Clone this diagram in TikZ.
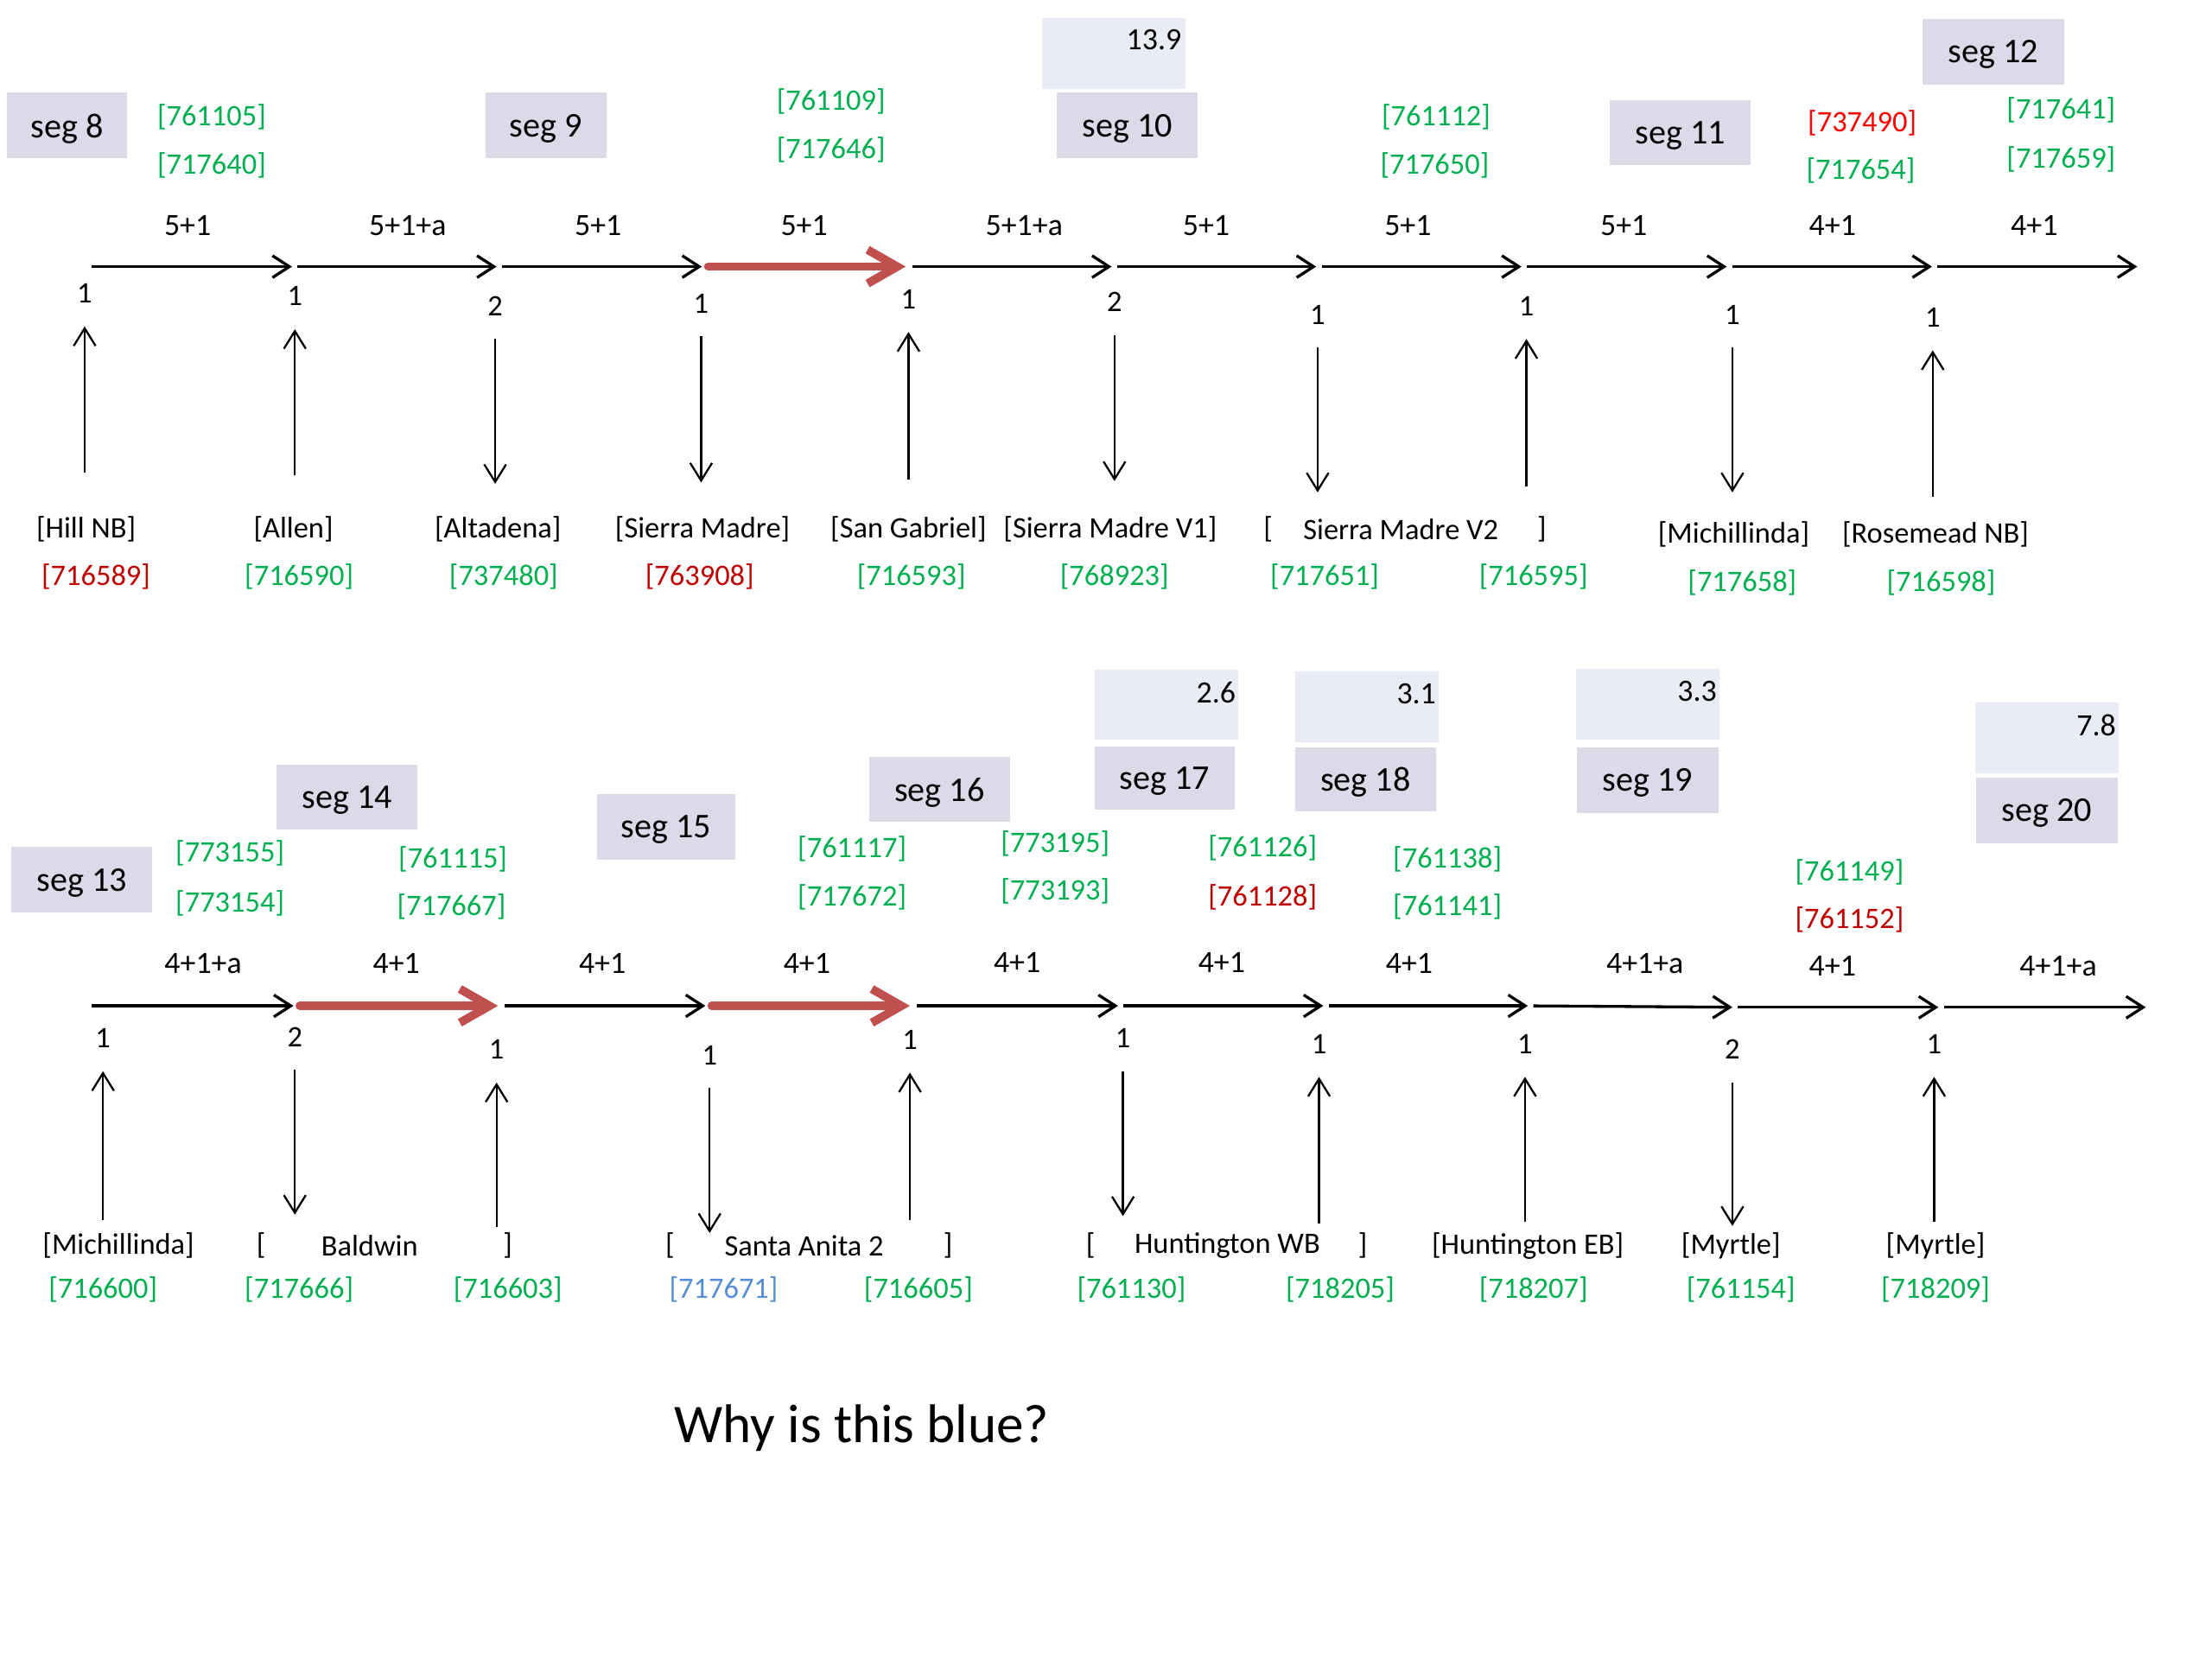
\documentclass[tikz,border=0pt]{standalone}
\usepackage{fontspec}
\setmainfont{Carlito}
\usetikzlibrary{arrows.meta,positioning}
\definecolor{idgreen}{RGB}{0,176,80}
\definecolor{iddark}{RGB}{192,0,0}
\definecolor{idbright}{RGB}{255,0,0}
\definecolor{idblue}{RGB}{85,142,213}
\definecolor{segfill}{RGB}{221,217,232}
\definecolor{valfill}{RGB}{233,236,244}
\definecolor{hotred}{RGB}{192,80,77}

\begin{document}
\begin{tikzpicture}[x=0.02cm,y=-0.02cm]

\tikzset{
  segbox/.style={fill=segfill, minimum width=2cm, minimum height=0.93cm, inner sep=0pt,
    text depth=0pt, font=\fontsize{14}{16}\selectfont},
  valbox/.style={fill=valfill, minimum width=2.04cm, minimum height=1cm, inner sep=0pt},
  val/.style={font=\fontsize{12.5}{14}\selectfont},
  linkid/.style={text=idgreen, font=\fontsize{12}{14}\selectfont, inner sep=0pt},
  stn/.style={font=\fontsize{12}{14}\selectfont, inner sep=0pt},
  lnk/.style={font=\fontsize{12.5}{14}\selectfont, inner sep=0pt},
  cnt/.style={font=\fontsize{12}{14}\selectfont, minimum height=0.92cm, inner sep=0pt},
  flow/.style={-{Straight Barb[length=2.4mm,width=3.1mm]}, line width=1.15pt,
    shorten <=0.4mm, shorten >=0.4mm},
  hot/.style={-{Straight Barb[length=4.2mm,width=4.8mm]}, line width=3.4pt, draw=hotred,
    line cap=round, shorten <=0.5mm, shorten >=0.6mm},
  feed/.style={-{Straight Barb[length=2.5mm,width=3.1mm]}, line width=0.8pt}
}

\useasboundingbox (0,0) rectangle (1568,1176);

\node[valbox] (v10) at (789.5,38) {};
\node[val] (v10t) at (818,28) {13.9};
\node[segbox, minimum width=1.7cm] (seg8) at (47.5,89) {seg 8};
\node[segbox, minimum width=1.72cm] (seg9) at (387,89) {seg 9};
\node[segbox] (seg10) at (799,89) {seg 10};
\node[segbox] (seg11) at (1191,94) {seg 11};
\node[segbox] (seg12) at (1413,36.5) {seg 12};

\node[linkid] (i1a) at (150,83) {[761105]};
\node[linkid] (i1b) at (150,117) {[717640]};
\node[linkid] (i4a) at (589,72) {[761109]};
\node[linkid] (i4b) at (589,106) {[717646]};
\node[linkid] (i7a) at (1018,83) {[761112]};
\node[linkid] (i7b) at (1017,117) {[717650]};
\node[linkid, text=idbright] (i9a) at (1320,87) {[737490]};
\node[linkid] (i9b) at (1319,121) {[717654]};
\node[linkid] (i10a) at (1461,78) {[717641]};
\node[linkid] (i10b) at (1461,113) {[717659]};

\coordinate (t0) at (63,189);
\coordinate (t1) at (209,189);
\coordinate (t2) at (354,189);
\coordinate (t3) at (499.5,189);
\coordinate (t4) at (645,189);
\coordinate (t5) at (790,189);
\coordinate (t6) at (935,189);
\coordinate (t7) at (1080.5,189);
\coordinate (t8) at (1226,189);
\coordinate (t9) at (1371.5,189);
\coordinate (t10) at (1517,189);

\draw[flow] (t0) -- (t1);
\draw[flow] (t1) -- (t2);
\draw[flow] (t2) -- (t3);
\draw[hot] (t3) -- (t4);
\draw[flow] (t4) -- (t5);
\draw[flow] (t5) -- (t6);
\draw[flow] (t6) -- (t7);
\draw[flow] (t7) -- (t8);
\draw[flow] (t8) -- (t9);
\draw[flow] (t9) -- (t10);

\node[lnk] (tl1) at (133,160) {5+1};
\node[lnk] (tl2) at (289,160) {5+1+a};
\node[lnk] (tl3) at (424,160) {5+1};
\node[lnk] (tl4) at (570,160) {5+1};
\node[lnk] (tl5) at (726,160) {5+1+a};
\node[lnk] (tl6) at (855,160) {5+1};
\node[lnk] (tl7) at (998,160) {5+1};
\node[lnk] (tl8) at (1151,160) {5+1};
\node[lnk] (tl9) at (1299,160) {4+1};
\node[lnk] (tl10) at (1442,160) {4+1};

\node[cnt] (tn0) at (60,208) {1};
\node[cnt] (tn1) at (209,210) {1};
\node[cnt] (tn2) at (351,217) {2};
\node[cnt] (tn3) at (497,215) {1};
\node[cnt] (tn4) at (644,212) {1};
\node[cnt] (tn5) at (790,214) {2};
\node[cnt] (tn6) at (934,223) {1};
\node[cnt] (tn7) at (1082,217) {1};
\node[cnt] (tn8) at (1228,223) {1};
\node[cnt] (tn9) at (1370,225) {1};

\coordinate (tb0) at (60,335);
\coordinate (tb1) at (209,337);
\coordinate (tb2) at (351,343);
\coordinate (tb3) at (497,342);
\coordinate (tb4) at (644,340);
\coordinate (tb5) at (790,341);
\coordinate (tb6) at (934,349);
\coordinate (tb7) at (1082,345);
\coordinate (tb8) at (1228,349);
\coordinate (tb9) at (1370,352);

\draw[feed] (tb0) -- (tn0);
\draw[feed] (tb1) -- (tn1);
\draw[feed] (tn2) -- (tb2);
\draw[feed] (tn3) -- (tb3);
\draw[feed] (tb4) -- (tn4);
\draw[feed] (tn5) -- (tb5);
\draw[feed] (tn6) -- (tb6);
\draw[feed] (tb7) -- (tn7);
\draw[feed] (tn8) -- (tb8);
\draw[feed] (tb9) -- (tn9);

\node[stn] (ts0) at (61,375) {[Hill NB]};
\node[stn] (ts1) at (208,375) {[Allen]};
\node[stn] (ts2) at (353,375) {[Altadena]};
\node[stn] (ts3) at (498,375) {[Sierra Madre]};
\node[stn] (ts4) at (644,375) {[San Gabriel]};
\node[stn] (ts5) at (787,375) {[Sierra Madre V1]};
\node[stn] (ts6l) at (899,375) {[};
\node[stn] (ts6) at (993,375) {Sierra Madre V2};
\node[stn] (ts6r) at (1093,375) {]};
\node[stn] (ts8) at (1229,379) {[Michillinda]};
\node[stn] (ts9) at (1372,379) {[Rosemead NB]};

\node[linkid, text=iddark] (td0) at (68,409) {[716589]};
\node[linkid] (td1) at (212,409) {[716590]};
\node[linkid] (td2) at (357,409) {[737480]};
\node[linkid, text=iddark] (td3) at (496,409) {[763908]};
\node[linkid] (td4) at (646,409) {[716593]};
\node[linkid] (td5) at (790,409) {[768923]};
\node[linkid] (td6) at (939,409) {[717651]};
\node[linkid] (td7) at (1087,409) {[716595]};
\node[linkid] (td8) at (1235,413) {[717658]};
\node[linkid] (td9) at (1376,413) {[716598]};

\node[valbox] (v17) at (827,499.5) {};
\node[val] (v17t) at (862,491) {2.6};
\node[valbox] (v18) at (969,501) {};
\node[val] (v18t) at (1004,492) {3.1};
\node[valbox] (v19) at (1168,499) {};
\node[val] (v19t) at (1203,490) {3.3};
\node[valbox] (v20) at (1451,523) {};
\node[val] (v20t) at (1486,514) {7.8};

\node[segbox] (seg13) at (58,623.5) {seg 13};
\node[segbox] (seg14) at (246,565) {seg 14};
\node[segbox, minimum width=1.96cm] (seg15) at (472,586) {seg 15};
\node[segbox] (seg16) at (666,559.5) {seg 16};
\node[segbox, minimum width=1.98cm, minimum height=0.9cm] (seg17) at (825.5,551.5) {seg 17};
\node[segbox, minimum height=0.9cm] (seg18) at (968,552.5) {seg 18};
\node[segbox] (seg19) at (1168,553) {seg 19};
\node[segbox] (seg20) at (1451,574.5) {seg 20};

\node[linkid] (j2a) at (163,605) {[773155]};
\node[linkid] (j2b) at (163,640) {[773154]};
\node[linkid] (j3a) at (321,609) {[761115]};
\node[linkid] (j3b) at (320,643) {[717667]};
\node[linkid] (j5a) at (604,602) {[761117]};
\node[linkid] (j5b) at (604,636) {[717672]};
\node[linkid] (j6a) at (748,598) {[773195]};
\node[linkid] (j6b) at (748,632) {[773193]};
\node[linkid] (j7a) at (895,601) {[761126]};
\node[linkid, text=iddark] (j7b) at (895,636) {[761128]};
\node[linkid] (j8a) at (1026,609) {[761138]};
\node[linkid] (j8b) at (1026,643) {[761141]};
\node[linkid] (j10a) at (1311,618) {[761149]};
\node[linkid, text=iddark] (j10b) at (1311,652) {[761152]};

\coordinate (b0) at (63,713);
\coordinate (b1) at (210,713);
\coordinate (b2) at (356,713);
\coordinate (b3) at (502,713);
\coordinate (b4) at (648,713);
\coordinate (b5) at (794.5,713);
\coordinate (b6) at (940,713);
\coordinate (b7) at (1085,713);
\coordinate (b8) at (1230,714);
\coordinate (b9) at (1376,714);
\coordinate (b10) at (1523,714);

\draw[flow] (b0) -- (b1);
\draw[hot] (b1) -- (b2);
\draw[flow] (b2) -- (b3);
\draw[hot] (b3) -- (b4);
\draw[flow] (b4) -- (b5);
\draw[flow] (b5) -- (b6);
\draw[flow] (b6) -- (b7);
\draw[flow] (b7) -- (b8);
\draw[flow] (b8) -- (b9);
\draw[flow] (b9) -- (b10);

\node[lnk] (bl1) at (144,683) {4+1+a};
\node[lnk] (bl2) at (281,683) {4+1};
\node[lnk] (bl3) at (427,683) {4+1};
\node[lnk] (bl4) at (572,683) {4+1};
\node[lnk] (bl5) at (721,682) {4+1};
\node[lnk] (bl6) at (866,682) {4+1};
\node[lnk] (bl7) at (999,683) {4+1};
\node[lnk] (bl8) at (1166,683) {4+1+a};
\node[lnk] (bl9) at (1299,685) {4+1};
\node[lnk] (bl10) at (1459,685) {4+1+a};

\node[cnt] (bn0) at (73,736) {1};
\node[cnt] (bn1) at (209,735) {2};
\node[cnt] (bn2) at (352,744) {1};
\node[cnt] (bn3) at (503,748) {1};
\node[cnt] (bn4) at (645,737) {1};
\node[cnt] (bn5) at (796,736) {1};
\node[cnt] (bn6) at (935,740) {1};
\node[cnt] (bn7) at (1081,740) {1};
\node[cnt] (bn8) at (1228,744) {2};
\node[cnt] (bn9) at (1371,740) {1};

\coordinate (bb0) at (73,865);
\coordinate (bb1) at (209,861);
\coordinate (bb2) at (352,870);
\coordinate (bb3) at (503,874);
\coordinate (bb4) at (645,865);
\coordinate (bb5) at (796,862);
\coordinate (bb6) at (935,867);
\coordinate (bb7) at (1081,866);
\coordinate (bb8) at (1228,869);
\coordinate (bb9) at (1371,866);

\draw[feed] (bb0) -- (bn0);
\draw[feed] (bn1) -- (bb1);
\draw[feed] (bb2) -- (bn2);
\draw[feed] (bn3) -- (bb3);
\draw[feed] (bb4) -- (bn4);
\draw[feed] (bn5) -- (bb5);
\draw[feed] (bb6) -- (bn6);
\draw[feed] (bb7) -- (bn7);
\draw[feed] (bn8) -- (bb8);
\draw[feed] (bb9) -- (bn9);

\node[stn] (bs0) at (84,883) {[Michillinda]};
\node[stn] (bs1l) at (185,883) {[};
\node[stn] (bs1) at (262,883) {Baldwin};
\node[stn] (bs1r) at (360,883) {]};
\node[stn] (bs3l) at (475,883) {[};
\node[stn] (bs3) at (570,883) {Santa Anita 2};
\node[stn] (bs3r) at (672,883) {]};
\node[stn] (bs5l) at (773,883) {[};
\node[stn] (bs5) at (870,883) {Huntington WB};
\node[stn] (bs5r) at (966,883) {]};
\node[stn] (bs7) at (1083,883) {[Huntington EB]};
\node[stn] (bs8) at (1227,883) {[Myrtle]};
\node[stn] (bs9) at (1372,883) {[Myrtle]};

\node[linkid] (bd0) at (73,914) {[716600]};
\node[linkid] (bd1) at (212,914) {[717666]};
\node[linkid] (bd2) at (360,914) {[716603]};
\node[linkid, text=idblue] (bd3) at (513,914) {[717671]};
\node[linkid] (bd4) at (651,914) {[716605]};
\node[linkid] (bd5) at (802,914) {[761130]};
\node[linkid] (bd6) at (950,914) {[718205]};
\node[linkid] (bd7) at (1087,914) {[718207]};
\node[linkid] (bd8) at (1234,914) {[761154]};
\node[linkid] (bd9) at (1372,914) {[718209]};

\node[font=\fontsize{22}{26}\selectfont] (why) at (611,1012) {Why is this blue?};

\end{tikzpicture}
\end{document}
